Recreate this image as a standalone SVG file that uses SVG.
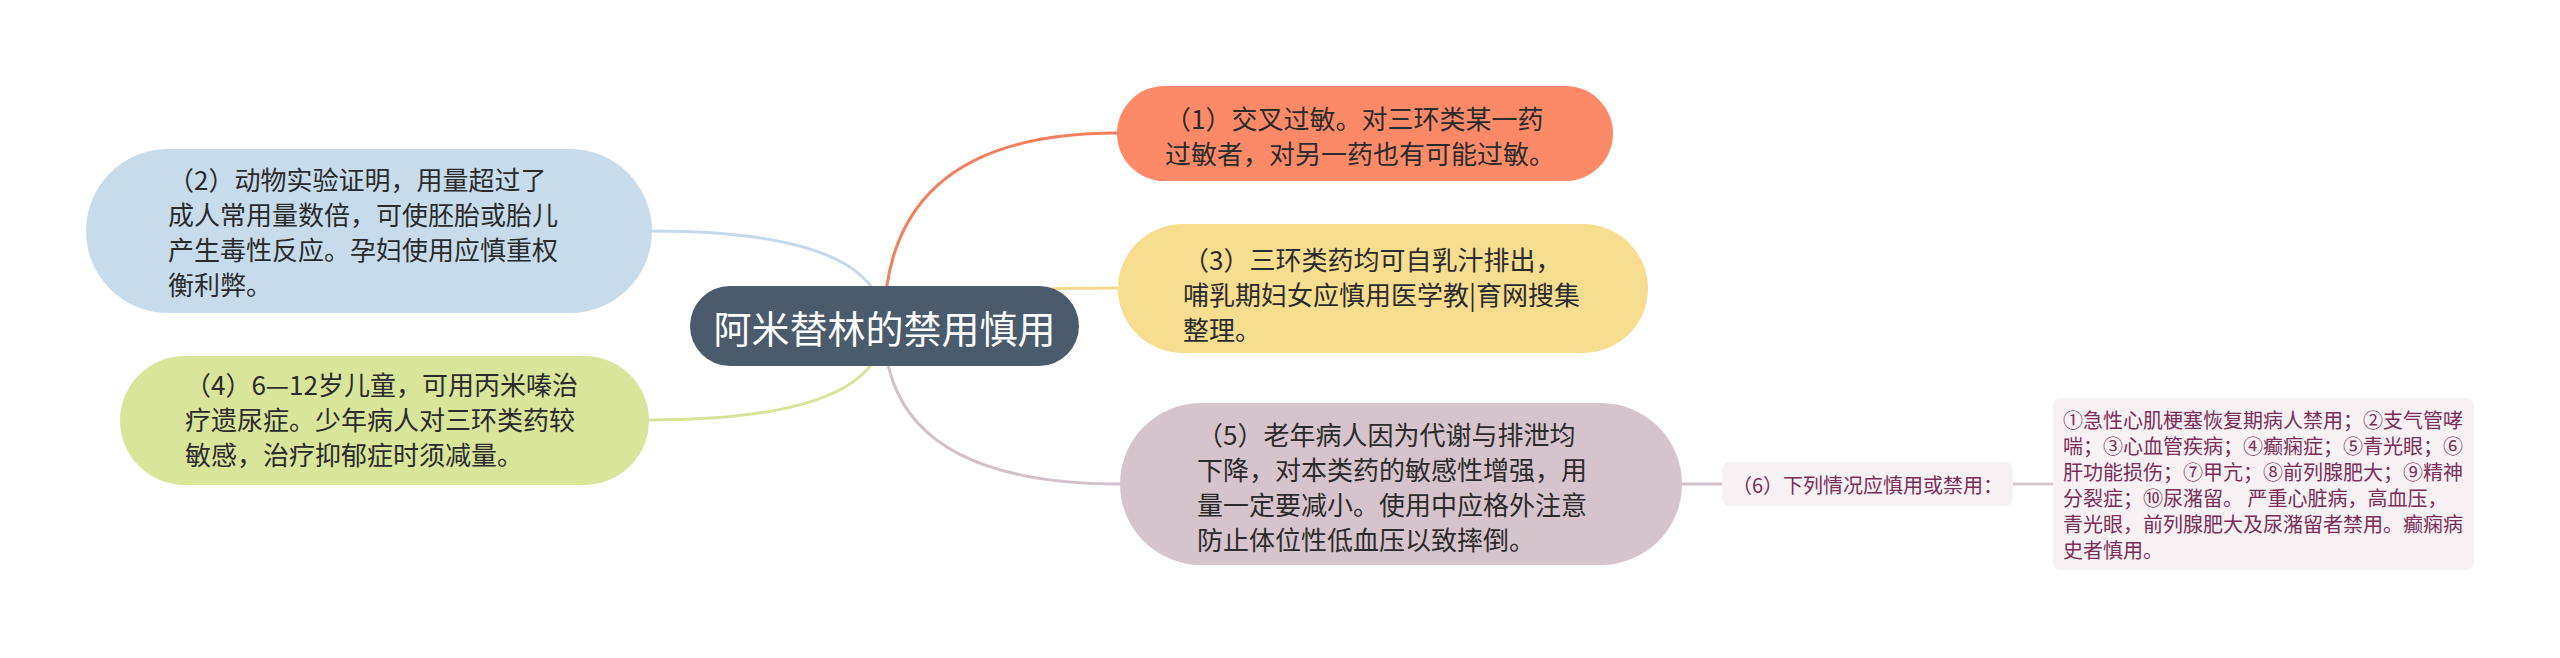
<svg xmlns="http://www.w3.org/2000/svg" width="2560" height="658" viewBox="0 0 2560 658">
<style>
.t{font-family:"Noto Sans CJK SC","Liberation Sans",sans-serif;font-size:26px;fill:#2b2b2b;dominant-baseline:central}
.s{font-family:"Noto Sans CJK SC","Liberation Sans",sans-serif;font-size:20px;fill:#7a2d58;dominant-baseline:central}
.root{font-family:"Noto Sans CJK SC","Liberation Sans",sans-serif;font-size:38px;fill:#ffffff;dominant-baseline:central;text-anchor:middle}
.c{fill:none;stroke-width:3;stroke-linecap:round}
</style>
<rect width="2560" height="658" fill="#ffffff"/>
<g id="connectors">
<path class="c" stroke="#f0805e" d="M884 326 Q884 133 1117 133"/>
<path class="c" stroke="#f3d98c" d="M884 326 Q884 288 1118 288"/>
<path class="c" stroke="#d2c0ca" d="M884 326 Q884 484 1120 484"/>
<path class="c" stroke="#c6d9ea" d="M884 326 Q884 231 652 231"/>
<path class="c" stroke="#d8e49a" d="M884 326 Q884 420 649 420"/>
<path class="c" stroke="#d2c0ca" d="M1682 484 L1722 484"/>
<path class="c" stroke="#d5c5cd" d="M2013 484 L2053 484"/>
</g>
<g id="root">
<rect x="690" y="286" width="389" height="80" rx="40" fill="#4b5b6b"/>
<text class="root" x="884.5" y="326">阿米替林的禁用慎用</text>
</g>
<g id="n1">
<rect x="1117" y="86" width="496" height="95" rx="47.5" fill="#fc8a68"/>
<text class="t" x="1165" y="117">（1）交叉过敏。对三环类某一药</text>
<text class="t" x="1165" y="152">过敏者，对另一药也有可能过敏。</text>
</g>
<g id="n2">
<rect x="86" y="149" width="566" height="164" rx="82" fill="#c8dbeb"/>
<text class="t" x="168" y="178">（2）动物实验证明，用量超过了</text>
<text class="t" x="168" y="213">成人常用量数倍，可使胚胎或胎儿</text>
<text class="t" x="168" y="248">产生毒性反应。孕妇使用应慎重权</text>
<text class="t" x="168" y="283">衡利弊。</text>
</g>
<g id="n3">
<rect x="1118" y="224" width="530" height="129" rx="64.5" fill="#f7dd8f"/>
<text class="t" x="1183" y="258">（3）三环类药均可自乳汁排出，</text>
<text class="t" x="1183" y="293">哺乳期妇女应慎用医学教|育网搜集</text>
<text class="t" x="1183" y="328">整理。</text>
</g>
<g id="n4">
<rect x="120" y="356" width="529" height="129" rx="64.5" fill="#d9e59a"/>
<text class="t" x="185" y="383">（4）6—12岁儿童，可用丙米嗪治</text>
<text class="t" x="185" y="418">疗遗尿症。少年病人对三环类药较</text>
<text class="t" x="185" y="453">敏感，治疗抑郁症时须减量。</text>
</g>
<g id="n5">
<rect x="1120" y="403" width="562" height="162" rx="81" fill="#d6c4cd"/>
<text class="t" x="1197" y="433">（5）老年病人因为代谢与排泄均</text>
<text class="t" x="1197" y="468">下降，对本类药的敏感性增强，用</text>
<text class="t" x="1197" y="503">量一定要减小。使用中应格外注意</text>
<text class="t" x="1197" y="538">防止体位性低血压以致摔倒。</text>
</g>
<g id="n6">
<rect x="1722" y="462" width="291" height="44" rx="8" fill="#f7f1f4"/>
<text class="s" x="1732" y="484">（6）下列情况应慎用或禁用：</text>
</g>
<g id="n7">
<rect x="2053" y="398" width="421" height="172" rx="8" fill="#f7f1f4"/>
<text class="s" x="2063" y="419">①急性心肌梗塞恢复期病人禁用；②支气管哮</text>
<text class="s" x="2063" y="445">喘；③心血管疾病；④癫痫症；⑤青光眼；⑥</text>
<text class="s" x="2063" y="471">肝功能损伤；⑦甲亢；⑧前列腺肥大；⑨精神</text>
<text class="s" x="2063" y="497">分裂症；⑩尿潴留。 严重心脏病，高血压，</text>
<text class="s" x="2063" y="523">青光眼，前列腺肥大及尿潴留者禁用。癫痫病</text>
<text class="s" x="2063" y="549">史者慎用。</text>
</g>
</svg>
